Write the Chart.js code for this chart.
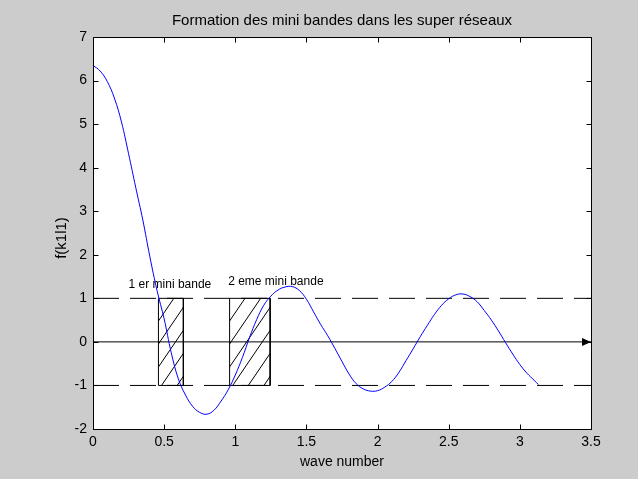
<!DOCTYPE html>
<html>
<head>
<meta charset="utf-8">
<script src="https://cdn.jsdelivr.net/npm/chart.js@4/dist/chart.umd.min.js"></script>
<style>
  html, body { margin: 0; padding: 0; background: #cccccc; }
  #wrap { width: 638px; height: 479px; }
</style>
</head>
<body>
<div id="wrap"><canvas id="bandes"></canvas></div>
<script>
// f(k1l1) sampled along the wave number axis
const waveNumber = [0, 0.05, 0.10, 0.15, 0.20, 0.25, 0.30, 0.35, 0.40, 0.45, 0.50, 0.55, 0.60, 0.65, 0.70,
  0.75, 0.80, 0.85, 0.90, 0.95, 1.00, 1.05, 1.10, 1.15, 1.20, 1.25, 1.30, 1.35, 1.40, 1.45, 1.50, 1.55,
  1.60, 1.65, 1.70, 1.75, 1.80, 1.85, 1.90, 1.95, 2.00, 2.05, 2.10, 2.15, 2.20, 2.25, 2.30, 2.35, 2.40,
  2.45, 2.50, 2.55, 2.60, 2.65, 2.70, 2.75, 2.80, 2.85, 2.90, 2.95, 3.00, 3.05, 3.10, 3.13];
const fValues = [6.35, 6.22, 5.98, 5.60, 5.05, 4.32, 3.55, 2.80, 1.95, 1.18, 0.53, -0.25, -0.85, -1.22, -1.48,
  -1.62, -1.66, -1.57, -1.36, -1.10, -0.76, -0.36, 0.10, 0.51, 0.84, 1.05, 1.19, 1.26, 1.27, 1.18, 0.98, 0.69,
  0.40, 0.14, -0.15, -0.45, -0.74, -0.96, -1.08, -1.13, -1.12, -1.04, -0.91, -0.70, -0.43, -0.16, 0.12, 0.38, 0.63,
  0.84, 0.99, 1.08, 1.10, 1.04, 0.92, 0.72, 0.50, 0.25, -0.02, -0.28, -0.52, -0.72, -0.88, -0.98];

// allowed bands: |f| <= 1
const bandLimits = [-1, 1];
const bandEdges = [[0.46, 0.635], [0.96, 1.245]];
const bandNames = ['1 er mini bande', '2 eme mini bande'];
const bandNameX = [0.25, 0.95];
const bandNameY = [1.32, 1.38];

const xTickValues = [0, 0.5, 1, 1.5, 2, 2.5, 3, 3.5];
const yTickValues = [-2, -1, 0, 1, 2, 3, 4, 5, 6, 7];

const FONT = 'Liberation Sans, Arial, Helvetica, sans-serif';

const curve = waveNumber.map((x, i) => ({ x: x, y: fValues[i] }));
const xMin = xTickValues[0], xMax = xTickValues[xTickValues.length - 1];

function hline(y) {
  return [{ x: xMin, y: y }, { x: xMax, y: y }];
}

const datasets = [
  { data: curve, borderColor: '#0000ff', borderWidth: 1, tension: 0.4 },
  { data: hline(bandLimits[1]), borderColor: '#000', borderWidth: 1, borderDash: [26, 11] },
  { data: hline(bandLimits[0]), borderColor: '#000', borderWidth: 1, borderDash: [26, 11] },
  { data: hline(0), borderColor: '#000', borderWidth: 1 }
];
bandEdges.forEach(([a, b]) => {
  datasets.push({
    data: [{ x: a, y: bandLimits[0] }, { x: a, y: bandLimits[1] }, { x: b, y: bandLimits[1] },
           { x: b, y: bandLimits[0] }, { x: a, y: bandLimits[0] }],
    borderColor: '#000', borderWidth: 1, tension: 0
  });
});

// figure background, white axes, hatching, box, inward ticks, arrow and text
const matlabLook = {
  id: 'matlabLook',
  beforeDraw(chart) {
    const { ctx, chartArea: ca } = chart;
    ctx.save();
    ctx.fillStyle = '#cccccc';
    ctx.fillRect(0, 0, chart.width, chart.height);
    ctx.fillStyle = '#ffffff';
    ctx.fillRect(ca.left, ca.top, ca.right - ca.left, ca.bottom - ca.top);
    ctx.restore();
  },
  beforeDatasetsDraw(chart) {
    const { ctx } = chart;
    const xs = chart.scales.x, ys = chart.scales.y;
    const yTop = ys.getPixelForValue(bandLimits[1]);
    const yBot = ys.getPixelForValue(bandLimits[0]);
    const start = ys.getPixelForValue(0.48);
    ctx.save();
    ctx.strokeStyle = '#000';
    ctx.lineWidth = 1;
    bandEdges.forEach(([a, b]) => {
      const xl = xs.getPixelForValue(a), xr = xs.getPixelForValue(b);
      ctx.save();
      ctx.beginPath();
      ctx.rect(xl, yTop, xr - xl, yBot - yTop);
      ctx.clip();
      ctx.beginPath();
      for (let k = -4; k < 8; k++) {
        const y0 = start + k * 23;
        ctx.moveTo(xl, y0);
        ctx.lineTo(xl + 100 * 0.68, y0 - 100);
      }
      ctx.stroke();
      ctx.restore();
    });
    ctx.restore();
  },
  afterDraw(chart) {
    const { ctx, chartArea: ca } = chart;
    const xs = chart.scales.x, ys = chart.scales.y;
    const L = Math.round(ca.left) + 0.5, R = Math.round(ca.right) + 0.5;
    const T = Math.round(ca.top) + 0.5, B = Math.round(ca.bottom) + 0.5;
    ctx.save();
    ctx.strokeStyle = '#000';
    ctx.lineWidth = 1;
    ctx.beginPath();
    ctx.rect(L, T, R - L, B - T);
    xTickValues.forEach(v => {
      const px = Math.round(xs.getPixelForValue(v)) + 0.5;
      ctx.moveTo(px, B); ctx.lineTo(px, B - 5);
      ctx.moveTo(px, T); ctx.lineTo(px, T + 5);
    });
    yTickValues.forEach(v => {
      const py = Math.round(ys.getPixelForValue(v)) + 0.5;
      ctx.moveTo(L, py); ctx.lineTo(L + 5, py);
      ctx.moveTo(R, py); ctx.lineTo(R - 5, py);
    });
    ctx.stroke();

    // arrow head on the zero line
    const ax = xs.getPixelForValue(xMax), ay = ys.getPixelForValue(0);
    ctx.fillStyle = '#000';
    ctx.beginPath();
    ctx.moveTo(ax, ay);
    ctx.lineTo(ax - 9, ay - 4);
    ctx.lineTo(ax - 9, ay + 4);
    ctx.closePath();
    ctx.fill();

    ctx.fillStyle = '#000';
    ctx.font = '12px ' + FONT;
    ctx.textBaseline = 'middle';
    ctx.textAlign = 'left';
    bandNames.forEach((name, i) => {
      ctx.fillText(name, xs.getPixelForValue(bandNameX[i]), ys.getPixelForValue(bandNameY[i]));
    });

    const cx = (ca.left + ca.right) / 2;
    ctx.textAlign = 'center';
    ctx.font = '15px ' + FONT;
    ctx.fillText('Formation des mini bandes dans les super réseaux', cx, 21);
    ctx.font = '14px ' + FONT;
    ctx.fillText('wave number', cx, 462);
    ctx.font = '15px ' + FONT;
    ctx.translate(62, (ca.top + ca.bottom) / 2 + 5);
    ctx.rotate(-Math.PI / 2);
    ctx.fillText('f(k1l1)', 0, 0);
    ctx.restore();
  }
};

new Chart(document.getElementById('bandes'), {
  type: 'scatter',
  data: { datasets: datasets },
  options: {
    responsive: true,
    maintainAspectRatio: false,
    animation: false,
    showLine: true,
    clip: false,
    elements: { point: { radius: 0 }, line: { fill: false } },
    layout: { padding: { left: 0, top: 37, right: 47, bottom: 0 } },
    plugins: { legend: { display: false }, tooltip: { enabled: false }, title: { display: false } },
    scales: {
      x: {
        type: 'linear', min: xMin, max: xMax,
        afterBuildTicks: s => { s.ticks = xTickValues.map(v => ({ value: v })); },
        afterFit: s => { s.height = 50; },
        grid: { display: false, drawTicks: false },
        border: { display: false },
        ticks: { color: '#000', padding: 5, maxRotation: 0, callback: v => String(v),
                 font: { family: FONT, size: 14 } }
      },
      y: {
        type: 'linear', min: yTickValues[0], max: yTickValues[yTickValues.length - 1],
        afterBuildTicks: s => { s.ticks = yTickValues.map(v => ({ value: v })); },
        afterFit: s => { s.width = 93; },
        grid: { display: false, drawTicks: false },
        border: { display: false },
        ticks: { color: '#000', padding: 6, callback: v => String(v),
                 font: { family: FONT, size: 14 } }
      }
    }
  },
  plugins: [matlabLook]
});
</script>
</body>
</html>
